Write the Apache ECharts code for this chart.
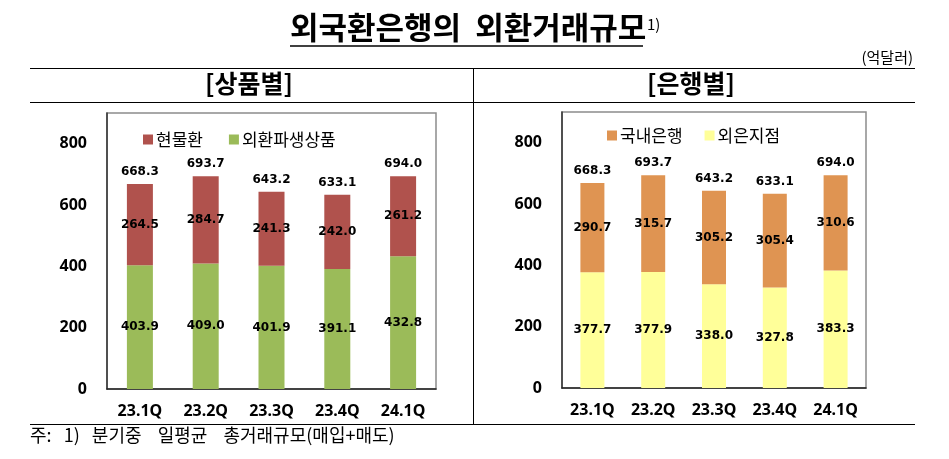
<!DOCTYPE html>
<html>
<head>
<meta charset="utf-8">
<script src="https://cdn.jsdelivr.net/npm/echarts@6/dist/echarts.min.js"></script>
<style>
html,body{margin:0;padding:0;background:#fff;}
#c{width:949px;height:459px;}
</style>
</head>
<body>
<div id="c"></div>
<script>
var categories = ['23.1Q','23.2Q','23.3Q','23.4Q','24.1Q'];
var spotFx = [264.5, 284.7, 241.3, 242.0, 261.2];
var fxDerivatives = [403.9, 409.0, 401.9, 391.1, 432.8];
var productTotals = [668.3, 693.7, 643.2, 633.1, 694.0];
var domesticBanks = [290.7, 315.7, 305.2, 305.4, 310.6];
var foreignBranches = [377.7, 377.9, 338.0, 327.8, 383.3];
var bankTotals = [668.3, 693.7, 643.2, 633.1, 694.0];
var yTicks = [0, 200, 400, 600, 800];

var KR = '"Noto Sans CJK KR", "Noto Sans", sans-serif';
var NUM = '"DejaVu Sans", sans-serif';

function fmt(p){ return Number(p.value).toFixed(1); }

var chart = echarts.init(document.getElementById('c'), null, {renderer:'canvas'});

function yAxisCfg(idx){
  return {
    gridIndex: idx, type:'value', min: yTicks[0], max: 900, interval: yTicks[1]-yTicks[0],
    axisLabel:{showMaxLabel:false, fontFamily:'"Noto Sans", sans-serif', fontWeight:'bold', fontSize:16, color:'#000', margin:20},
    axisLine:{show:true, lineStyle:{color:'#333', width:1.5}},
    axisTick:{show:false}, splitLine:{show:false}
  };
}
function xAxisCfg(idx){
  return {
    gridIndex: idx, type:'category', data: categories,
    axisLabel:{fontFamily:'"Noto Sans", sans-serif', fontWeight:'bold', fontSize:16, color:'#000', margin:14},
    axisLine:{show:true, lineStyle:{color:'#222', width:1.5}},
    axisTick:{show:false}
  };
}
var inLabel = {show:true, position:'inside', formatter:fmt, fontFamily:NUM, fontWeight:'bold', fontSize:12, color:'#000'};
var topLabel = {show:true, position:'top', distance:6, formatter:fmt, fontFamily:NUM, fontWeight:'bold', fontSize:12, color:'#000', opacity:1};

var option = {
  animation:false,
  backgroundColor:'#fff',
  grid:[
    {left:107, top:113, width:329, height:276, show:true, borderColor:'#8c8c8c', borderWidth:1.5, backgroundColor:'#fff'},
    {left:562, top:112, width:304, height:276, show:true, borderColor:'#8c8c8c', borderWidth:1.5, backgroundColor:'#fff'}
  ],
  xAxis:[xAxisCfg(0), xAxisCfg(1)],
  yAxis:[yAxisCfg(0), yAxisCfg(1)],
  legend:[
    {data:['현물환','외환파생상품'], left:138, top:126, icon:'rect', itemWidth:10, itemHeight:10, itemGap:26,
     textStyle:{fontFamily:KR, fontSize:17, color:'#000', padding:[0,0,0,-2]}},
    {data:['국내은행','외은지점'], left:602, top:122, icon:'rect', itemWidth:10, itemHeight:10, itemGap:22,
     textStyle:{fontFamily:KR, fontSize:17, color:'#000', padding:[0,0,0,-2]}}
  ],
  series:[
    {name:'외환파생상품', type:'bar', stack:'p', xAxisIndex:0, yAxisIndex:0, data:fxDerivatives, barWidth:26,
     itemStyle:{color:'#9BBB59'}, label:inLabel},
    {name:'현물환', type:'bar', stack:'p', xAxisIndex:0, yAxisIndex:0, data:spotFx, barWidth:26,
     itemStyle:{color:'#B0524D'}, label:inLabel},
    {name:'합계1', type:'scatter', xAxisIndex:0, yAxisIndex:0, data:productTotals, symbolSize:0,
     itemStyle:{color:'#000'}, label:topLabel, silent:true, emphasis:{disabled:true}},
    {name:'외은지점', type:'bar', stack:'b', xAxisIndex:1, yAxisIndex:1, data:foreignBranches, barWidth:24,
     itemStyle:{color:'#FFFF99'}, label:inLabel},
    {name:'국내은행', type:'bar', stack:'b', xAxisIndex:1, yAxisIndex:1, data:domesticBanks, barWidth:24,
     itemStyle:{color:'#DF9452'}, label:inLabel},
    {name:'합계2', type:'scatter', xAxisIndex:1, yAxisIndex:1, data:bankTotals, symbolSize:0,
     itemStyle:{color:'#000'}, label:topLabel, silent:true, emphasis:{disabled:true}}
  ],
  graphic:[
    {type:'text', left:290, top:12, style:{text:'외국환은행의  외환거래규모', font:'bold 31px '+KR, fill:'#000'}},
    {type:'text', left:647, top:17, style:{text:'1)', font:'15px '+KR, fill:'#000'}},
    {type:'line', shape:{x1:290, y1:46, x2:643, y2:46}, style:{stroke:'#000', lineWidth:1.5}},
    {type:'text', right:36, top:50, style:{text:'(억달러)', font:'15px '+KR, fill:'#000'}},
    {type:'line', shape:{x1:30, y1:68.5, x2:915, y2:68.5}, style:{stroke:'#000', lineWidth:1.2}},
    {type:'line', shape:{x1:30, y1:102.5, x2:915, y2:102.5}, style:{stroke:'#000', lineWidth:1.2}},
    {type:'line', shape:{x1:30, y1:424.5, x2:915, y2:424.5}, style:{stroke:'#000', lineWidth:1.2}},
    {type:'line', shape:{x1:473.5, y1:68, x2:473.5, y2:425}, style:{stroke:'#000', lineWidth:1}},
    {type:'text', left:205, top:71, style:{text:'[상품별]', font:'bold 25px '+KR, fill:'#000'}},
    {type:'text', left:647, top:71, style:{text:'[은행별]', font:'bold 25px '+KR, fill:'#000'}},
    {type:'text', left:30, top:426, style:{text:'주:   1)   분기중    일평균    총거래규모(매입+매도)', font:'18px '+KR, fill:'#000'}}
  ]
};
chart.setOption(option);
</script>
</body>
</html>
